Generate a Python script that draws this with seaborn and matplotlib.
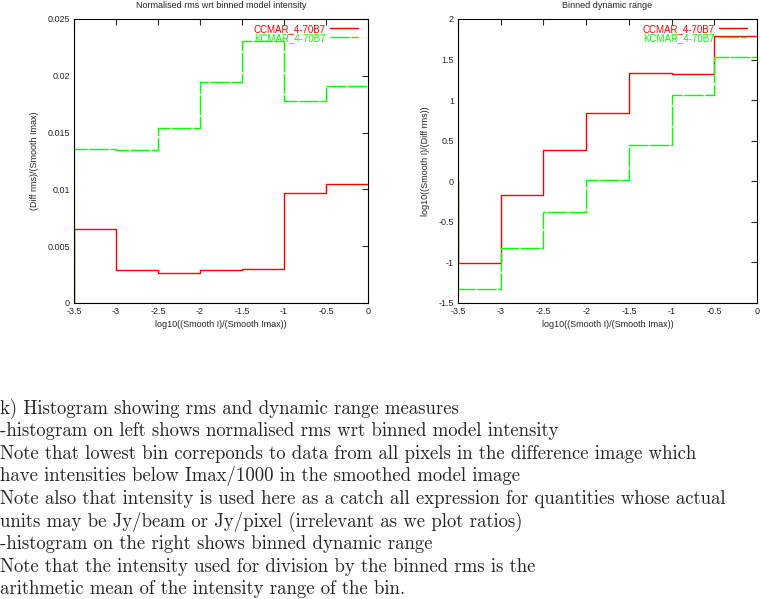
import matplotlib
matplotlib.use('Agg')
import matplotlib.pyplot as plt
import seaborn as sns
import numpy as np

# bin edges in log10(Smooth I / Smooth Imax)
bin_edges = [-3.5, -3.0, -2.5, -2.0, -1.5, -1.0, -0.5, 0.0]

# left: normalised rms wrt binned model intensity
rms_ccmar = [0.00651, 0.00290, 0.00264, 0.00290, 0.00299, 0.00967, 0.01049]
rms_kcmar = [0.01354, 0.01345, 0.01539, 0.01943, 0.02304, 0.01779, 0.01914]

# right: binned dynamic range
dr_ccmar = [-1.008, -0.170, 0.383, 0.838, 1.331, 1.319, 1.787]
dr_kcmar = [-1.328, -0.823, -0.384, 0.014, 0.445, 1.060, 1.528]

series_names = ['CCMAR_4-70B7', 'KCMAR_4-70B7']

caption = [
    'k) Histogram showing rms and dynamic range measures',
    '-histogram on left shows normalised rms wrt binned model intensity',
    'Note that lowest bin correponds to data from all pixels in the difference image which',
    'have intensities below Imax/1000 in the smoothed model image',
    'Note also that intensity is used here as a catch all expression for quantities whose actual',
    'units may be Jy/beam or Jy/pixel (irrelevant as we plot ratios)',
    '-histogram on the right shows binned dynamic range',
    'Note that the intensity used for division by the binned rms is the',
    'arithmetic mean of the intensity range of the bin.',
]

sns.set_style('white')
plt.rcParams['font.family'] = ['Liberation Sans', 'DejaVu Sans']


def histeps(ax, vals, color, label, dashed=False):
    # gnuplot-like histeps: rises from zero at the first edge
    xs = [bin_edges[0]] + bin_edges
    ys = [0.0] + list(vals) + [vals[-1]]
    sns.lineplot(x=xs, y=ys, estimator=None, sort=False, ax=ax,
                 drawstyle='steps-post', color=color, lw=1.0, label=label)
    if dashed:
        ax.get_lines()[-1].set_dashes([14, 1.2])


def style_axes(ax, title, xlabel, ylabel, ylim, yticks):
    ax.set_xlim(-3.5, 0)
    ax.set_ylim(*ylim)
    ax.set_xticks(bin_edges)
    ax.set_xticklabels([('%g' % v) for v in bin_edges])
    ax.set_yticks(yticks)
    ax.set_yticklabels([('%g' % v) for v in yticks])
    ax.tick_params(direction='in', length=4, width=0.8, labelsize=6.5,
                   top=True, right=True, pad=3)
    for s in ax.spines.values():
        s.set_color('black')
        s.set_linewidth(0.8)
    ax.set_title(title, fontsize=6.5, pad=8)
    ax.set_xlabel(xlabel, fontsize=6.5, labelpad=3)
    ax.set_ylabel(ylabel, fontsize=6.5, labelpad=6)
    leg = ax.legend(loc='upper right', frameon=False, markerfirst=False,
                    fontsize=7, labelcolor='linecolor', handlelength=2.9,
                    handletextpad=0.5, labelspacing=-0.1, borderpad=0.2,
                    borderaxespad=0.3, bbox_to_anchor=(0.984, 1.0))
    for h in leg.get_lines():
        h.set_linewidth(1.0)


fig = plt.figure(figsize=(7.6, 5.99), dpi=100)
ax1 = fig.add_axes([74 / 760, 1 - 303 / 599, 294 / 760, 284 / 599])
ax2 = fig.add_axes([458 / 760, 1 - 303 / 599, 299 / 760, 284 / 599])

histeps(ax1, rms_ccmar, '#ff0000', series_names[0])
histeps(ax1, rms_kcmar, '#00ff00', series_names[1], dashed=True)
style_axes(ax1, 'Normalised rms wrt binned model intensity',
           'log10((Smooth I)/(Smooth Imax))', '(Diff rms)/(Smooth Imax)',
           (0, 0.025), [0, 0.005, 0.01, 0.015, 0.02, 0.025])

histeps(ax2, dr_ccmar, '#ff0000', series_names[0])
histeps(ax2, dr_kcmar, '#00ff00', series_names[1], dashed=True)
style_axes(ax2, 'Binned dynamic range',
           'log10((Smooth I)/(Smooth Imax))', 'log10((Smooth I)/(Diff rms))',
           (-1.5, 2), [-1.5, -1, -0.5, 0, 0.5, 1, 1.5, 2])

y0 = 414
for i, line in enumerate(caption):
    fig.text(0.0, 1 - (y0 + i * 22.5) / 599, line, family='cmr10',
             fontsize=13.5, va='baseline', ha='left')

fig.savefig('out.png', dpi=100)
